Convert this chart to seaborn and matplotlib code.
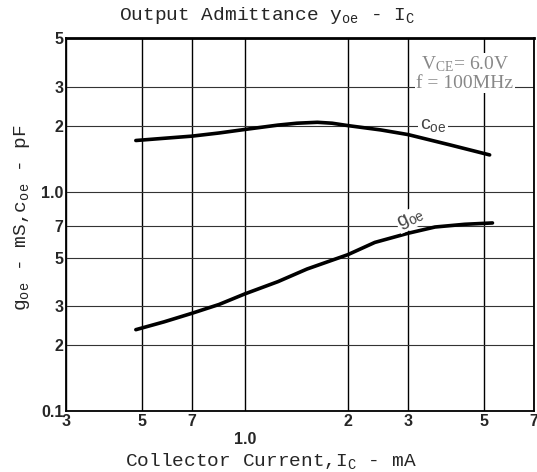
import numpy as np
import pandas as pd
import matplotlib
matplotlib.use("Agg")
import matplotlib.pyplot as plt
import seaborn as sns

# ==========================================================
# DATOS
# ==========================================================
ic_coe = [0.48, 0.58, 0.7, 0.84, 1.0, 1.25, 1.42, 1.63, 1.8, 2.0, 2.5, 3.0, 4.0, 5.2]
coe = [1.71, 1.75, 1.79, 1.85, 1.92, 2.01, 2.05, 2.07, 2.05, 2.0, 1.91, 1.82, 1.63, 1.47]

ic_goe = [0.48, 0.58, 0.7, 0.84, 1.0, 1.25, 1.52, 2.0, 2.4, 3.0, 3.6, 4.4, 5.3]
goe = [0.235, 0.255, 0.279, 0.306, 0.342, 0.389, 0.444, 0.516, 0.587, 0.646, 0.69, 0.71, 0.72]

xticks = [0.3, 0.5, 0.7, 1.0, 2, 3, 5, 7]
xticklabels = ["3", "5", "7", "1.0", "2", "3", "5", "7"]
yticks = [0.1, 0.2, 0.3, 0.5, 0.7, 1.0, 2, 3, 5]
yticklabels = ["0.1", "2", "3", "5", "7", "1.0", "2", "3", "5"]

df_coe = pd.DataFrame({"ic": ic_coe, "val": coe})
df_goe = pd.DataFrame({"ic": ic_goe, "val": goe})

# ==========================================================
# ESTILO
# ==========================================================
sns.set_style("white")
plt.rcParams["font.family"] = ["Liberation Mono", "DejaVu Sans Mono"]
plt.rcParams["mathtext.default"] = "regular"

fig = plt.figure(figsize=(5.37, 4.72), dpi=100)
ax = fig.add_axes([0.123, 0.129, 0.871, 0.790])

sns.lineplot(data=df_coe, x="ic", y="val", ax=ax, color="black", lw=2.6)
sns.lineplot(data=df_goe, x="ic", y="val", ax=ax, color="black", lw=2.6)

ax.set_xscale("log")
ax.set_yscale("log")
ax.set_xlim(0.3, 7)
ax.set_ylim(0.1, 5)

ax.set_xticks(xticks)
ax.set_xticklabels(xticklabels)
ax.set_yticks(yticks)
ax.set_yticklabels(yticklabels)
ax.minorticks_off()
ax.tick_params(length=0, pad=2)
for lab in ax.get_xticklabels() + ax.get_yticklabels():
    lab.set_family("Liberation Sans")
    lab.set_fontweight("bold")
    lab.set_fontsize(11.5)
ax.xaxis.get_major_ticks()[3].set_pad(15)

ax.xaxis.grid(True, color="black", lw=1.0)
ax.yaxis.grid(True, color="#333333", lw=0.8)
for s in ax.spines.values():
    s.set_color("black")
    s.set_linewidth(1.3)
ax.spines["top"].set_linewidth(2.0)

ax.set_xlabel("Collector Current,I$_C$ - mA", fontsize=14)
ax.xaxis.set_label_coords(0.438, -0.108)
ax.set_ylabel("g$_{oe}$ - mS,c$_{oe}$ - pF", fontsize=14)
ax.yaxis.set_label_coords(-0.072, 0.52)
ax.set_title("Output Admittance y$_{oe}$ - I$_C$", fontsize=14, x=0.43, y=1.0, pad=13)

# anotaciones
ax.text(5.95, 3.8, "V$_{CE}$= 6.0V", ha="right", va="center", fontsize=14,
        color="#888888", family="Liberation Serif",
        bbox=dict(facecolor="white", edgecolor="none", pad=1))
ax.text(6.1, 3.12, "f = 100MHz", ha="right", va="center", fontsize=14,
        color="#888888", family="Liberation Serif",
        bbox=dict(facecolor="white", edgecolor="none", pad=1))
ax.text(3.55, 2.0, "c$_{oe}$", ha="center", va="center", fontsize=14,
        color="#444444", family="Liberation Sans",
        bbox=dict(facecolor="white", edgecolor="none", pad=1))
ax.text(3.05, 0.75, "g$_{oe}$", ha="center", va="center", fontsize=14,
        color="#444444", family="Liberation Sans", rotation=25,
        bbox=dict(facecolor="white", edgecolor="none", pad=0.5))

fig.savefig("out.png", dpi=100)
